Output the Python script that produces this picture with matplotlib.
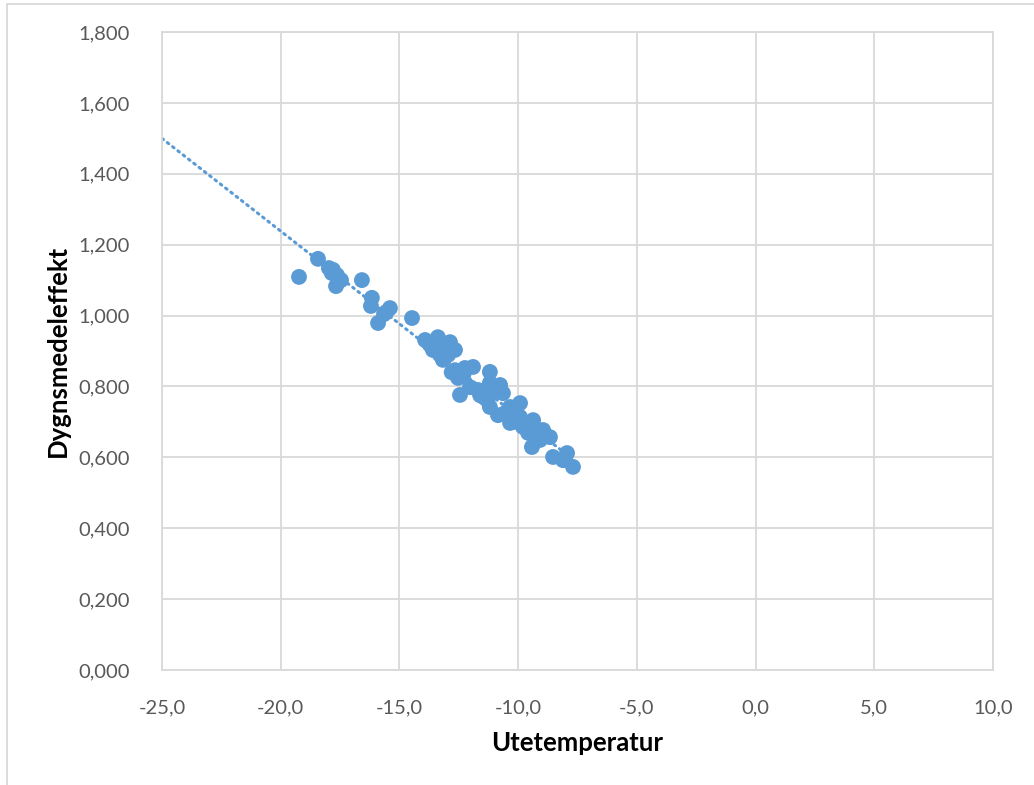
import numpy as np
import matplotlib
matplotlib.use("Agg")
import matplotlib.pyplot as plt
from matplotlib.patches import Rectangle

# Data
temperature = [
    -19.23, -18.43, -17.97, -17.80, -17.63, -17.46, -17.67, -16.58, -16.16, -16.20,
    -15.90, -15.65, -15.40, -14.47, -13.92, -13.38, -12.87, -12.66, -13.59, -13.17,
    -13.08, -13.71, -13.29, -12.95, -12.66, -11.90, -12.24, -12.53, -11.19, -12.45,
    -12.03, -11.69, -11.19, -10.76, -11.31, -10.64, -11.19, -10.85, -10.34, -9.92,
    -10.34, -9.92, -9.80, -9.37, -9.58, -8.95, -8.66, -9.42, -9.08, -8.53,
    -7.94, -7.69, -8.11, -10.55, -10.10, -9.65, -11.45, -12.80, -13.45, -12.30,
    -13.80, -13.50, -13.00, -11.60, -11.00, -10.20, -9.25, -8.80, -17.85, -15.55,
]
power = [
    1.109, 1.160, 1.134, 1.129, 1.114, 1.100, 1.083, 1.100, 1.050, 1.027,
    0.979, 1.004, 1.021, 0.993, 0.931, 0.939, 0.925, 0.903, 0.903, 0.875,
    0.917, 0.917, 0.889, 0.889, 0.846, 0.855, 0.852, 0.824, 0.841, 0.776,
    0.798, 0.790, 0.810, 0.804, 0.762, 0.781, 0.742, 0.719, 0.742, 0.753,
    0.697, 0.714, 0.686, 0.705, 0.669, 0.677, 0.657, 0.629, 0.649, 0.601,
    0.612, 0.573, 0.592, 0.725, 0.700, 0.690, 0.770, 0.840, 0.900, 0.835,
    0.925, 0.910, 0.895, 0.775, 0.785, 0.705, 0.680, 0.660, 1.120, 1.010,
]
x_ticks = [-25, -20, -15, -10, -5, 0, 5, 10]
y_ticks = [0.0, 0.2, 0.4, 0.6, 0.8, 1.0, 1.2, 1.4, 1.6, 1.8]
x_label = "Utetemperatur"
y_label = "Dygnsmedeleffekt"

blue = "#5B9BD5"
grid_c = "#D9D9D9"
text_c = "#595959"
font = "Lato"

fig = plt.figure(figsize=(10.34, 7.85), dpi=100)
fig.patch.set_facecolor("white")

# outer chart border
W, H = 1034, 785
fig.add_artist(Rectangle((7 / W, -0.05), 1.2, (785 - 4) / H + 0.05, transform=fig.transFigure,
                         fill=False, edgecolor=grid_c, linewidth=1.3, zorder=0))

ax = fig.add_axes([162 / W, (H - 670) / H, 831 / W, 638 / H])
ax.set_xlim(-25, 10)
ax.set_ylim(0, 1.8)
ax.set_xticks(x_ticks)
ax.set_yticks(y_ticks)
ax.set_xticklabels([f"{v:.1f}".replace(".", ",") for v in x_ticks])
ax.set_yticklabels([f"{v:.3f}".replace(".", ",") for v in y_ticks])
ax.grid(True, color=grid_c, linewidth=1.3)
ax.set_axisbelow(True)
for s in ax.spines.values():
    s.set_color(grid_c)
    s.set_linewidth(1.3)
ax.tick_params(length=0, labelsize=14.5, labelcolor=text_c)
ax.tick_params(axis="y", pad=23)
ax.tick_params(axis="x", pad=21)
for lab in ax.get_xticklabels() + ax.get_yticklabels():
    lab.set_fontfamily(font)

# trendline (linear fit, backward forecast to -25)
t = np.array(temperature)
p = np.array(power)
k, m = np.polyfit(t, p, 1)
xs = np.array([-25, t.max()])
ax.plot(xs, k * xs + m, color=blue, linewidth=2.2, linestyle=(0, (0.6, 1.6)),
        dash_capstyle="round", zorder=2)

ax.scatter(t, p, s=130, color=blue, edgecolors="none", zorder=3)

ax.set_xlabel(x_label, fontsize=18.5, fontweight="bold", fontfamily=font, color="black")
ax.set_ylabel(y_label, fontsize=18.5, fontweight="bold", fontfamily=font, color="black")
ax.xaxis.label.set_va("center")
ax.xaxis.set_label_coords(0.5, (670 - 743) / 638)
ax.yaxis.label.set_ha("center")
ax.yaxis.label.set_va("center")
ax.yaxis.set_label_coords((58 - 162) / 831, 0.5)

fig.savefig("out.png", dpi=100, facecolor="white")
